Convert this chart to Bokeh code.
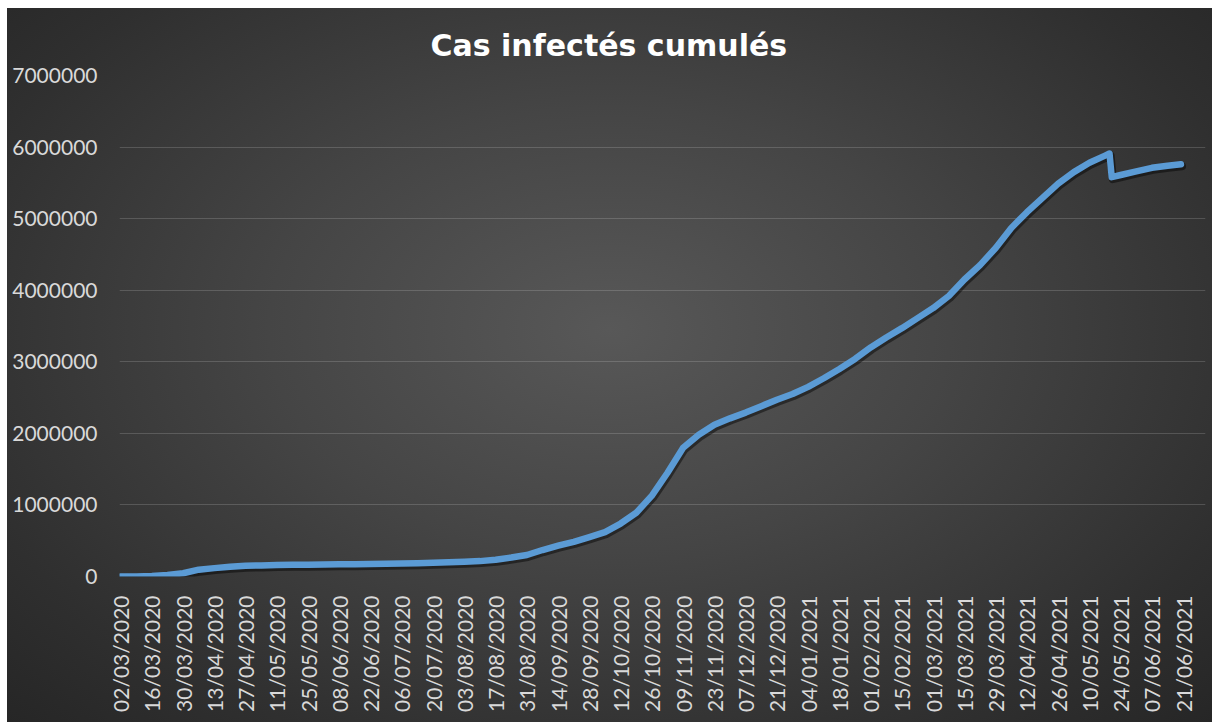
from datetime import datetime

from bokeh.embed import file_html
from bokeh.models import ColumnDataSource, FixedTicker, Range1d
from bokeh.plotting import figure
from bokeh.resources import INLINE
from bokeh.transform import dodge

# Cumulative infected cases (France), sampled dates and counts
dates = [
    "02/03/2020", "09/03/2020", "16/03/2020", "23/03/2020", "30/03/2020",
    "06/04/2020", "13/04/2020", "20/04/2020", "27/04/2020", "04/05/2020",
    "11/05/2020", "18/05/2020", "25/05/2020", "01/06/2020", "08/06/2020",
    "15/06/2020", "22/06/2020", "29/06/2020", "06/07/2020", "13/07/2020",
    "20/07/2020", "27/07/2020", "03/08/2020", "10/08/2020", "17/08/2020",
    "24/08/2020", "31/08/2020", "07/09/2020", "14/09/2020", "21/09/2020",
    "28/09/2020", "05/10/2020", "12/10/2020", "19/10/2020", "26/10/2020",
    "02/11/2020", "09/11/2020", "16/11/2020", "23/11/2020", "30/11/2020",
    "07/12/2020", "14/12/2020", "21/12/2020", "28/12/2020", "04/01/2021",
    "11/01/2021", "18/01/2021", "25/01/2021", "01/02/2021", "08/02/2021",
    "15/02/2021", "22/02/2021", "01/03/2021", "08/03/2021", "15/03/2021",
    "22/03/2021", "29/03/2021", "05/04/2021", "12/04/2021", "19/04/2021",
    "26/04/2021", "03/05/2021", "10/05/2021", "17/05/2021", "19/05/2021",
    "20/05/2021", "24/05/2021", "31/05/2021", "07/06/2021", "14/06/2021",
    "20/06/2021",
]
cases = [
    200, 1400, 6600, 20000, 45000,
    95000, 117000, 135000, 150000, 155000,
    160000, 163000, 165000, 168000, 170000,
    172000, 175000, 178000, 181000, 185000,
    192000, 198000, 205000, 215000, 235000,
    265000, 300000, 370000, 430000, 485000,
    550000, 620000, 740000, 890000, 1130000,
    1450000, 1800000, 1980000, 2120000, 2210000,
    2290000, 2380000, 2470000, 2550000, 2650000,
    2770000, 2900000, 3040000, 3200000, 3340000,
    3470000, 3610000, 3750000, 3920000, 4150000,
    4350000, 4590000, 4870000, 5090000, 5290000,
    5490000, 5650000, 5780000, 5880000, 5910000,
    5580000, 5610000, 5660000, 5710000, 5740000,
    5760000,
]

# Category axis: one label every two weeks
x_tick_labels = [
    "02/03/2020", "16/03/2020", "30/03/2020", "13/04/2020", "27/04/2020",
    "11/05/2020", "25/05/2020", "08/06/2020", "22/06/2020", "06/07/2020",
    "20/07/2020", "03/08/2020", "17/08/2020", "31/08/2020", "14/09/2020",
    "28/09/2020", "12/10/2020", "26/10/2020", "09/11/2020", "23/11/2020",
    "07/12/2020", "21/12/2020", "04/01/2021", "18/01/2021", "01/02/2021",
    "15/02/2021", "01/03/2021", "15/03/2021", "29/03/2021", "12/04/2021",
    "26/04/2021", "10/05/2021", "24/05/2021", "07/06/2021", "21/06/2021",
]
y_ticks = [0, 1000000, 2000000, 3000000, 4000000, 5000000, 6000000, 7000000]

start = datetime.strptime(dates[0], "%d/%m/%Y")


def day_index(s):
    return (datetime.strptime(s, "%d/%m/%Y") - start).days


days = [day_index(d) for d in dates]
x_ticks = [day_index(d) for d in x_tick_labels]

source = ColumnDataSource(data=dict(day=days, cases=cases))

LABEL_FONT = "Lato"
LABEL_COLOR = "#d9d9d9"

p = figure(
    width=1205,
    height=714,
    output_backend="svg",
    toolbar_location=None,
    title="Cas infectés cumulés",
    x_range=Range1d(-0.5, 486),
    y_range=Range1d(0, 7000000),
    min_border_left=112,
    min_border_right=7,
    min_border_top=67,
    min_border_bottom=146,
)
p.margin = (8, 0, 0, 7)
p.styles = {
    "background": "radial-gradient(ellipse farthest-corner at 50% 45%, "
    "#585858 0%, #454545 40%, #2f2f2f 80%, #262626 100%)"
}
p.border_fill_color = None
p.background_fill_color = None
p.outline_line_color = None

# title, centred on the whole chart rather than on the plot frame
p.title.align = "left"
p.title.offset = 311
p.title.text_font = "DejaVu Sans"
p.title.text_font_style = "bold"
p.title.text_font_size = "30px"
p.title.text_color = "#ffffff"
p.title.standoff = 26

# soft drop shadow under the series line
p.line(
    x=dodge("day", 0.5), y=dodge("cases", -28000), source=source,
    line_color="#000000", line_alpha=0.45, line_width=8,
    line_cap="round", line_join="round",
)
p.line(
    x="day", y="cases", source=source,
    line_color="#5b9bd5", line_width=6.5,
    line_cap="round", line_join="round",
)

# axes
p.xaxis.ticker = FixedTicker(ticks=x_ticks)
p.xaxis.major_label_overrides = {t: lab for t, lab in zip(x_ticks, x_tick_labels)}
p.xaxis.major_label_orientation = 3.14159265 / 2
p.xaxis.major_label_standoff = 19
p.yaxis.ticker = FixedTicker(ticks=y_ticks)
p.yaxis.major_label_overrides = {t: str(t) for t in y_ticks}
p.yaxis.major_label_standoff = 22

for ax in (p.xaxis, p.yaxis):
    ax.axis_line_color = None
    ax.major_tick_line_color = None
    ax.minor_tick_line_color = None
    ax.major_tick_out = 0
    ax.major_tick_in = 0
    ax.major_label_text_font = LABEL_FONT
    ax.major_label_text_font_size = "21px"
    ax.major_label_text_color = LABEL_COLOR

p.xgrid.grid_line_color = None
p.ygrid.ticker = FixedTicker(ticks=y_ticks)
p.ygrid.grid_line_color = "#ffffff"
p.ygrid.grid_line_alpha = 0.16
p.ygrid.grid_line_width = 1.2

open("out.html", "w").write(file_html(p, INLINE))
